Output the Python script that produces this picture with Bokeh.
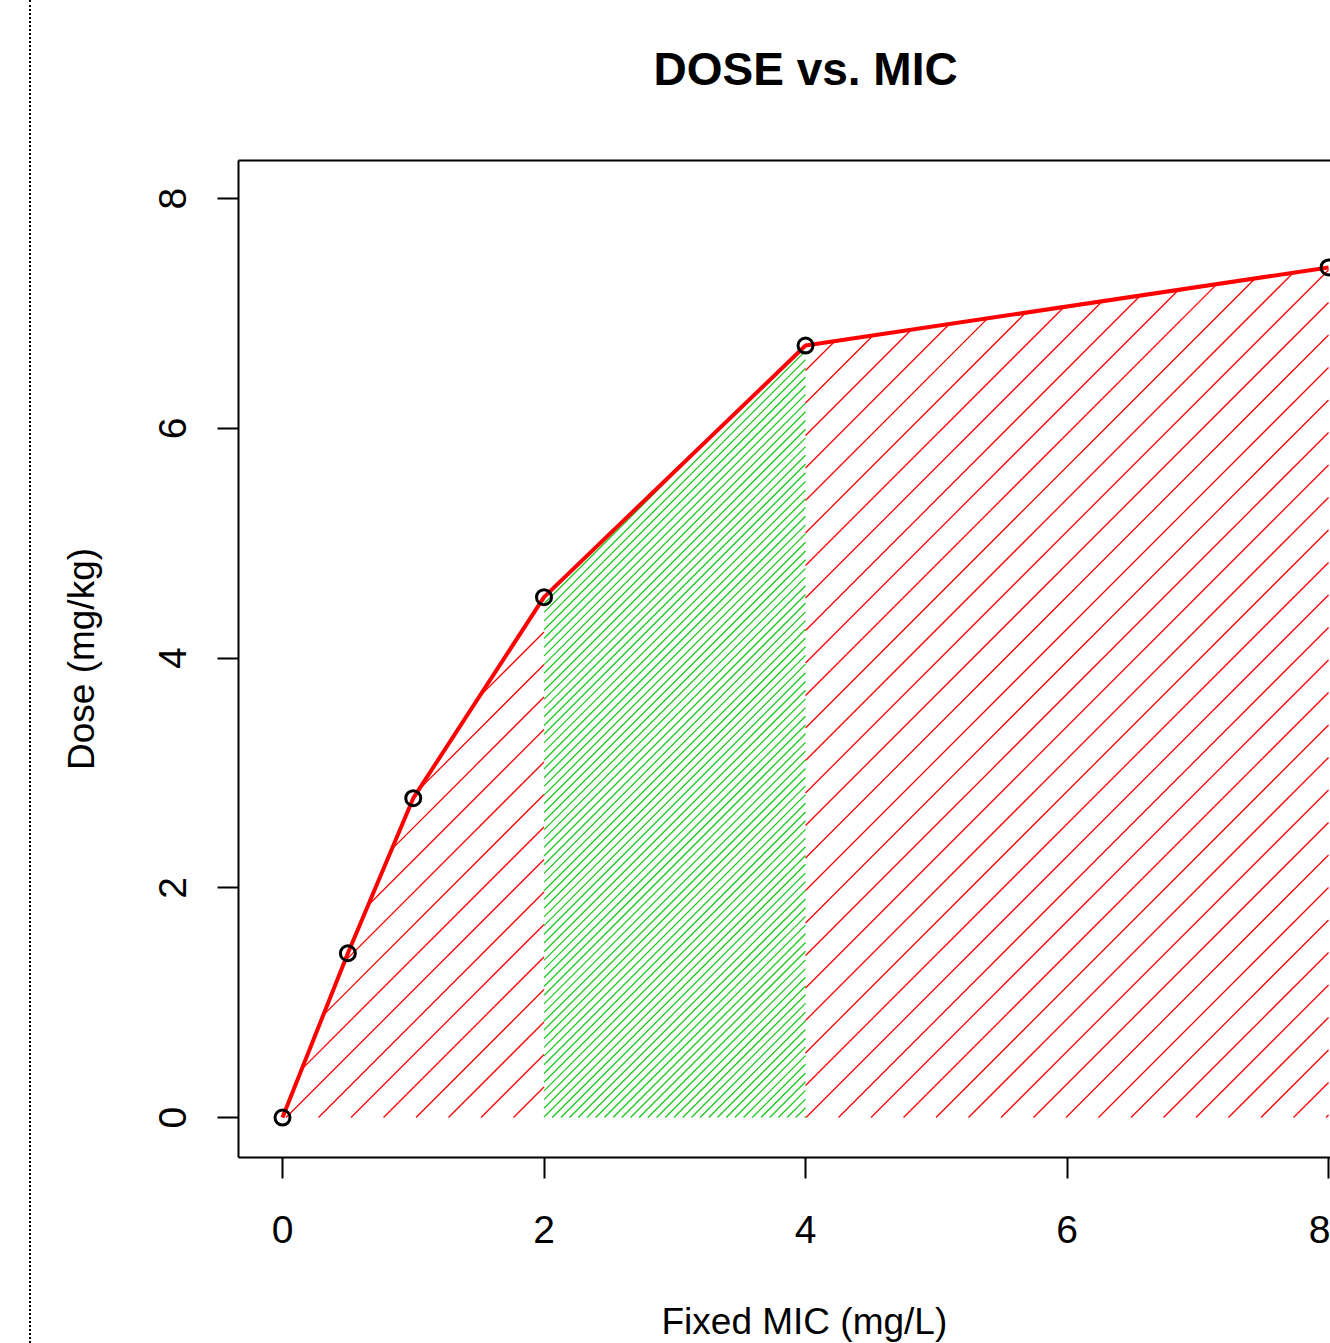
import numpy as np
from bokeh.plotting import figure
from bokeh.models import FixedTicker, Range1d, Div, Title, LinearAxis
from bokeh.layouts import row
from bokeh.embed import file_html
from bokeh.resources import INLINE

# data
mic = [0, 0.5, 1, 2, 4, 8]
dose = [0, 1.43, 2.78, 4.53, 6.72, 7.40]
x_ticks = [0, 2, 4, 6, 8]
y_ticks = [0, 2, 4, 6, 8]
green_lo, green_hi = 2, 4
title_text = "DOSE vs. MIC"
x_title = "Fixed MIC (mg/L)"
y_title = "Dose (mg/kg)"

FONT = "Liberation Sans"

# geometry
FIG_W, FIG_H = 1299, 1343
B_LEFT, B_TOP, B_BOTTOM = 207, 160, 186
X0, X1 = -0.3365, 8.015
Y0, Y1 = -0.348, 8.331
kx = (FIG_W - B_LEFT) / (X1 - X0)          # px per x unit
ky = (FIG_H - B_TOP - B_BOTTOM) / (Y1 - Y0)  # px per y unit


def hatch_lines(lo, hi, spacing_px, phase_px):
    """45-degree (screen) hatch lines clipped to the area under the curve on [lo, hi]."""
    pts = [lo] + [x for x in mic if lo < x < hi] + [hi]
    fv = list(np.interp(pts, mic, dose))
    cmin = -hi * kx
    cmax = max(f * ky - x * kx for x, f in zip(pts, fv))
    n0 = int(np.floor((-cmax - phase_px) / spacing_px)) - 1
    n1 = int(np.ceil((-cmin - phase_px) / spacing_px)) + 1
    out_x, out_y = [], []
    for n in range(n0, n1 + 1):
        c = -(phase_px + n * spacing_px)
        xmin_line = -c / kx
        lo_x, hi_x = None, None
        for a, b, fa, fb in zip(pts[:-1], pts[1:], fv[:-1], fv[1:]):
            ga = fa - (a * kx + c) / ky
            gb = fb - (b * kx + c) / ky
            if ga >= 0 and gb >= 0:
                s, e = a, b
            elif ga < 0 and gb < 0:
                continue
            else:
                r = a + (b - a) * ga / (ga - gb)
                s, e = (a, r) if ga >= 0 else (r, b)
            s = max(s, xmin_line)
            if e <= s:
                continue
            lo_x = s if lo_x is None else min(lo_x, s)
            hi_x = e if hi_x is None else max(hi_x, e)
        if lo_x is None or hi_x - lo_x < 1e-6:
            continue
        out_x.append([lo_x, hi_x])
        out_y.append([(lo_x * kx + c) / ky, (hi_x * kx + c) / ky])
    return out_x, out_y


p = figure(width=FIG_W, height=FIG_H, output_backend="svg", toolbar_location=None,
           x_range=Range1d(X0, X1), y_range=Range1d(Y0, Y1),
           min_border_left=B_LEFT, min_border_right=0, min_border_top=B_TOP,
           min_border_bottom=B_BOTTOM)
x_ax = p.xaxis[0]
y_ax = p.yaxis[0]

# hatched regions
for lo, hi in [(0, green_lo), (green_hi, 8)]:
    hx, hy = hatch_lines(lo, hi, 32.5, 36)
    p.multi_line(hx, hy, line_color="#ff0000", line_width=1.3)
gx, gy = hatch_lines(green_lo, green_hi, 8.7, 0)
p.multi_line(gx, gy, line_color="#1ec81e", line_width=1.3)

p.line(mic, dose, line_color="#ff0000", line_width=4)
p.scatter(mic, dose, marker="circle", size=15, fill_color=None,
          line_color="black", line_width=3)


def spacer_axis(size, line_color):
    # an axis with no ticks whose blank label only reserves space
    return LinearAxis(ticker=FixedTicker(ticks=[], minor_ticks=[]),
                      axis_line_color=line_color, axis_line_width=2,
                      major_tick_line_color=None, minor_tick_line_color=None,
                      major_label_text_font_size="0px", major_label_standoff=0,
                      major_tick_out=0, major_tick_in=0,
                      minor_tick_out=0, minor_tick_in=0,
                      axis_label=" ", axis_label_text_font_size="1px",
                      axis_label_standoff=size)


# top edge of the box (the right edge lies outside the picture) + spacing
p.add_layout(spacer_axis(62, "black"), "above")
t = Title(text=title_text, text_font=FONT, text_font_size="46px",
          text_font_style="bold", text_color="black", align="left",
          offset=415, standoff=0)
p.add_layout(t, "above")

p.add_layout(spacer_axis(49, None), "below")
xt = Title(text=x_title, text_font=FONT, text_font_size="37px",
           text_font_style="normal", text_color="black", align="left",
           offset=423, standoff=0)
p.add_layout(xt, "below")

p.grid.visible = False
p.outline_line_color = None
p.background_fill_color = "white"
p.border_fill_color = "white"

for ax in (x_ax, y_ax):
    ax.axis_line_color = "black"
    ax.axis_line_width = 2
    ax.major_tick_line_color = "black"
    ax.major_tick_line_width = 2
    ax.major_tick_out = 21
    ax.major_tick_in = 0
    ax.minor_tick_line_color = None
    ax.major_label_text_font = FONT
    ax.major_label_text_font_size = "39px"
    ax.major_label_text_color = "black"
    ax.axis_label_text_font = FONT
    ax.axis_label_text_font_size = "37px"
    ax.axis_label_text_font_style = "normal"
    ax.axis_label_text_color = "black"

x_ax.ticker = FixedTicker(ticks=x_ticks)
y_ax.ticker = FixedTicker(ticks=y_ticks)
y_ax.axis_label = y_title
x_ax.major_label_standoff = 37
y_ax.major_label_standoff = 31
y_ax.axis_label_standoff = 55
y_ax.major_label_orientation = "vertical"

border = Div(text="", width=31, height=FIG_H, margin=(0, 0, 0, 0),
             styles={"border-right": "2px dotted #000", "box-sizing": "border-box"})

layout = row(border, p)
open("out.html", "w").write(file_html(layout, INLINE))
